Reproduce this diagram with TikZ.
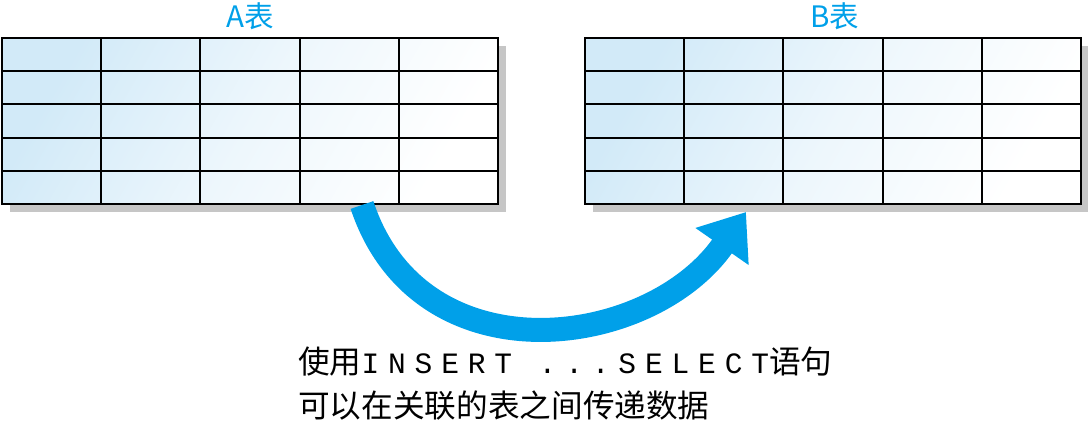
\documentclass[tikz,border=0pt]{standalone}
\usepackage{fontspec}
\newfontfamily\cjk{Noto Sans CJK SC}
\setmonofont[LetterSpace=30]{Liberation Mono}
\usetikzlibrary{arrows.meta}
\definecolor{tblblue}{HTML}{00A0E9}
\definecolor{cellblue}{HTML}{D2EAF8}
\tikzset{
  tbllabel/.style={font=\cjk\fontsize{21}{21}\selectfont,text=tblblue},
  note/.style={font=\cjk\fontsize{22.5}{24}\selectfont,anchor=west,inner sep=0pt},
}
\newcommand{\datatable}[3]{% x, y, name
  \fill[gray!45] (#1+8,#2+8) rectangle ++(496,166);
  \shade[left color=cellblue,right color=white,middle color=cellblue!40,shading angle=60]
    (#1,#2) rectangle ++(496,166);
  \foreach \i in {1,...,4} {
    \draw[line width=1.3pt] (#1+\i*99.2,#2) -- ++(0,166);
    \draw[line width=1.3pt] (#1,#2+\i*33.2) -- ++(496,0);
  }
  \draw[line width=1.3pt] (#1,#2) rectangle ++(496,166);
  \coordinate (#3) at (#1+248,#2);
}
\begin{document}
\begin{tikzpicture}[x=0.025cm,y=-0.025cm]
  \useasboundingbox (0,0) rectangle (1088,421);
  \datatable{2}{38}{ta}
  \datatable{585}{38}{tb}
  \node[tbllabel] (la) at (250,16) {A表};
  \node[tbllabel] (lb) at (835,16) {B表};
  \coordinate (start) at (362,205);
  \coordinate (finish) at (746,212);
  \draw[tblblue,line width=0.6cm,-{Triangle[width=1.55cm,length=1.05cm]}]
    (start) .. controls (420,380) and (650,350) .. (finish);
  \node[note] (n1) at (298,362) {使用{\ttfamily\fontsize{21}{24}\selectfont INSERT ...SELECT}语句};
  \node[note] (n2) at (298,406) {可以在关联的表之间传递数据};
\end{tikzpicture}
\end{document}
